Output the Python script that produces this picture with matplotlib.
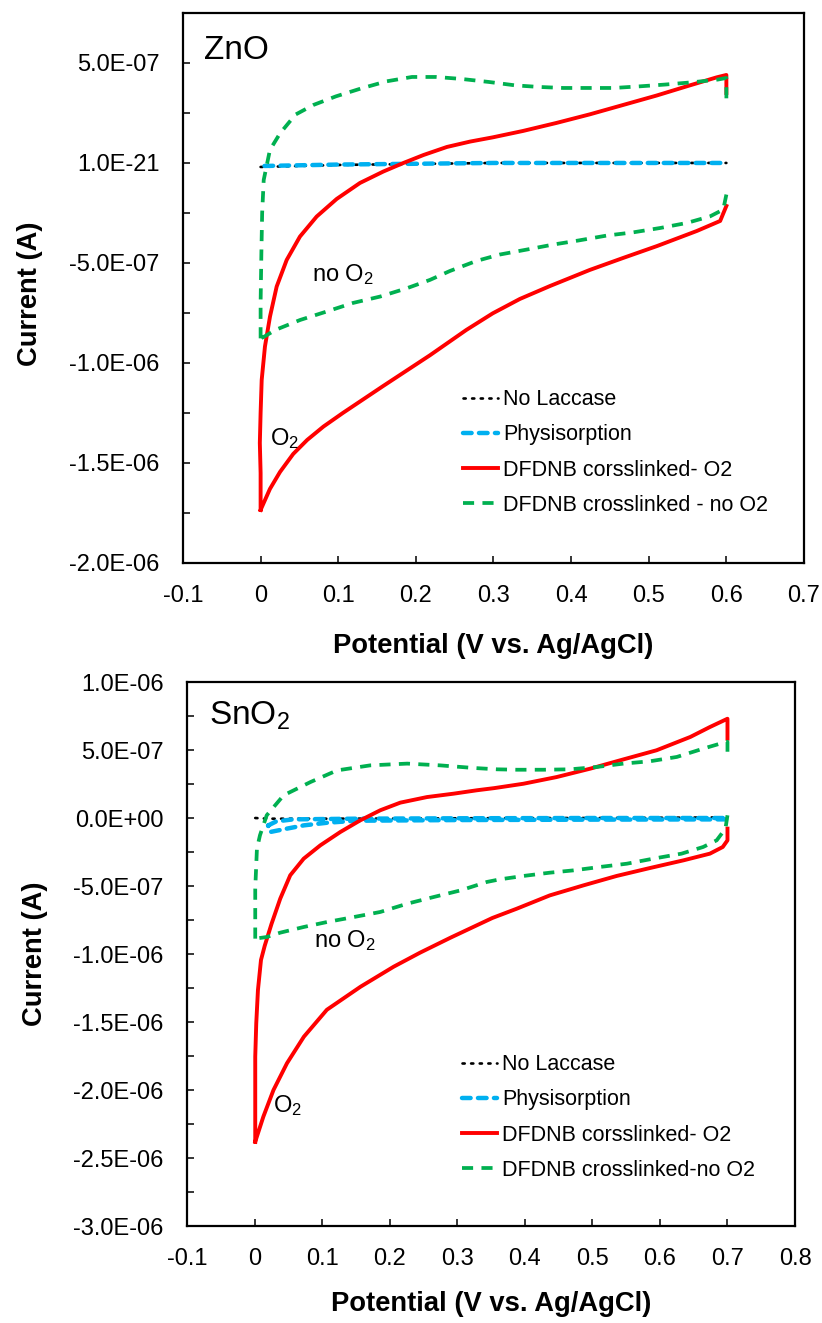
import numpy as np
import matplotlib.pyplot as plt
from matplotlib.ticker import MultipleLocator

plt.rcParams['font.family'] = 'Liberation Sans'
plt.rcParams['mathtext.fontset'] = 'custom'
plt.rcParams['mathtext.rm'] = 'Liberation Sans'
plt.rcParams['mathtext.it'] = 'Liberation Sans:italic'
plt.rcParams['mathtext.bf'] = 'Liberation Sans:bold'
plt.rcParams['lines.scale_dashes'] = False

series_names = ["No Laccase", "Physisorption", "DFDNB corsslinked- O2"]
zno_green_name = "DFDNB crosslinked - no O2"
sno2_green_name = "DFDNB crosslinked-no O2"

# ---------------------------------------------------------------------------
# ZnO electrode, potential in V, current in uA
# ---------------------------------------------------------------------------
zno_black_v = [0.0, 0.1, 0.2, 0.3, 0.4, 0.5, 0.6]
zno_black_i = [-0.02, -0.01, -0.005, 0.0, 0.0, 0.0, 0.0]

zno_blue_v = [0.005, 0.1, 0.2, 0.3, 0.4, 0.5, 0.6]
zno_blue_i = [-0.015, -0.008, -0.004, 0.0, 0.0, 0.0, 0.0]

zno_red_fwd_v = [0.000, 0.000, -0.001, 0.000, 0.0014, 0.0056, 0.0121, 0.0207, 0.0336, 0.0507,
                 0.0722, 0.098, 0.128, 0.158, 0.184, 0.210, 0.240, 0.270, 0.299, 0.338, 0.381,
                 0.424, 0.467, 0.510, 0.553, 0.5875, 0.600, 0.600]
zno_red_fwd_i = [-1.735, -1.55, -1.40, -1.25, -1.085, -0.918, -0.768, -0.618, -0.485, -0.368,
                 -0.268, -0.18, -0.10, -0.043, 0.0, 0.04, 0.08, 0.107, 0.128, 0.160, 0.200,
                 0.243, 0.290, 0.337, 0.388, 0.428, 0.44, 0.35]
zno_red_rev_v = [0.600, 0.592, 0.562, 0.511, 0.467, 0.424, 0.373, 0.334, 0.299, 0.265, 0.218,
                 0.158, 0.106, 0.081, 0.060, 0.042, 0.025, 0.012, 0.000]
zno_red_rev_i = [-0.215, -0.29, -0.34, -0.415, -0.475, -0.535, -0.615, -0.680, -0.752, -0.835, -0.962,
                 -1.115, -1.25, -1.318, -1.385, -1.455, -1.545, -1.63, -1.735]

zno_green_fwd_v = [0.000, 0.000, 0.001, 0.002, 0.004, 0.012, 0.025, 0.045, 0.068, 0.097, 0.129,
                   0.162, 0.195, 0.226, 0.259, 0.294, 0.328, 0.359, 0.390, 0.423, 0.455, 0.488,
                   0.521, 0.555, 0.589, 0.600, 0.600]
zno_green_fwd_i = [-0.877, -0.70, -0.45, -0.25, -0.085, 0.065, 0.148, 0.242, 0.29, 0.333, 0.372,
                   0.408, 0.43, 0.43, 0.42, 0.405, 0.388, 0.38, 0.375, 0.375, 0.375, 0.383,
                   0.392, 0.403, 0.417, 0.425, 0.30]
zno_green_rev_v = [0.600, 0.596, 0.579, 0.549, 0.515, 0.480, 0.446, 0.409, 0.377, 0.343, 0.308,
                   0.278, 0.244, 0.218, 0.188, 0.154, 0.119, 0.085, 0.051, 0.019, 0.004, 0.000]
zno_green_rev_i = [-0.158, -0.233, -0.267, -0.30, -0.325, -0.347, -0.363, -0.388, -0.408, -0.433, -0.458,
                   -0.49, -0.54, -0.585, -0.627, -0.668, -0.70, -0.743, -0.785, -0.835, -0.87, -0.877]

zno_yticks = [-2.0e-6, -1.5e-6, -1.0e-6, -5.0e-7, 0.0, 5.0e-7]
zno_yticklabels = ["-2.0E-06", "-1.5E-06", "-1.0E-06", "-5.0E-07", "1.0E-21", "5.0E-07"]
zno_xticks = [-0.1, 0.0, 0.1, 0.2, 0.3, 0.4, 0.5, 0.6, 0.7]
zno_xticklabels = ["-0.1", "0", "0.1", "0.2", "0.3", "0.4", "0.5", "0.6", "0.7"]

# ---------------------------------------------------------------------------
# SnO2 electrode
# ---------------------------------------------------------------------------
sno2_black_v = [0.001, 0.02, 0.1, 0.2, 0.3, 0.4, 0.5, 0.6, 0.7]
sno2_black_i = [0.0, -0.005, -0.005, -0.004, -0.002, 0.0, 0.0, 0.002, 0.005]

sno2_blue_v = [0.020, 0.032, 0.057, 0.15, 0.3, 0.5, 0.7, 0.7, 0.5, 0.3, 0.15, 0.107, 0.073,
               0.048, 0.023, 0.020]
sno2_blue_i = [-0.055, -0.025, -0.01, -0.005, -0.002, 0.0, 0.0, -0.01, -0.012, -0.015, -0.02,
               -0.035, -0.054, -0.078, -0.103, -0.055]

sno2_red_fwd_v = [0.001, 0.001, 0.001, 0.0025, 0.005, 0.0095, 0.015, 0.025, 0.038, 0.0528, 0.0727,
                  0.0973, 0.1269, 0.1565, 0.1861, 0.2157, 0.2552, 0.2947, 0.3292, 0.355, 0.398,
                  0.447, 0.497, 0.546, 0.595, 0.645, 0.674, 0.700, 0.700]
sno2_red_fwd_i = [-2.38, -2.12, -1.755, -1.51, -1.265, -1.044, -0.94, -0.78, -0.593, -0.421, -0.299,
                  -0.201, -0.103, -0.017, 0.057, 0.113, 0.154, 0.179, 0.204, 0.22, 0.252,
                  0.301, 0.363, 0.431, 0.498, 0.596, 0.669, 0.73, 0.583]
sno2_red_rev_v = [0.700, 0.700, 0.693, 0.674, 0.635, 0.585, 0.536, 0.487, 0.437, 0.388, 0.352,
                  0.290, 0.245, 0.206, 0.157, 0.107, 0.073, 0.048, 0.028, 0.013, 0.001]
sno2_red_rev_i = [-0.078, -0.164, -0.213, -0.262, -0.311, -0.368, -0.426, -0.495, -0.569, -0.667, -0.735,
                  -0.88, -0.99, -1.093, -1.24, -1.41, -1.608, -1.803, -2.0, -2.196, -2.38]

sno2_green_fwd_v = [0.001, 0.001, 0.0035, 0.008, 0.018, 0.043, 0.083, 0.122, 0.171, 0.226, 0.275,
                    0.324, 0.359, 0.388, 0.427, 0.467, 0.506, 0.546, 0.585, 0.625, 0.664, 0.694,
                    0.700, 0.700]
sno2_green_fwd_i = [-0.887, -0.52, -0.226, -0.127, 0.02, 0.167, 0.265, 0.35, 0.387, 0.40, 0.387,
                    0.368, 0.358, 0.355, 0.355, 0.358, 0.375, 0.40, 0.417, 0.449, 0.51, 0.554,
                    0.56, 0.473]
sno2_green_rev_v = [0.700, 0.697, 0.684, 0.664, 0.632, 0.590, 0.551, 0.511, 0.472, 0.437, 0.398,
                    0.363, 0.344, 0.305, 0.265, 0.226, 0.186, 0.147, 0.107, 0.073, 0.038, 0.018, 0.001]
sno2_green_rev_i = [0.02, -0.078, -0.164, -0.213, -0.262, -0.299, -0.336, -0.36, -0.385, -0.402, -0.426,
                    -0.451, -0.47, -0.532, -0.581, -0.63, -0.691, -0.728, -0.765, -0.801, -0.843,
                    -0.875, -0.887]

sno2_yticks = [-3.0e-6, -2.5e-6, -2.0e-6, -1.5e-6, -1.0e-6, -5.0e-7, 0.0, 5.0e-7, 1.0e-6]
sno2_yticklabels = ["-3.0E-06", "-2.5E-06", "-2.0E-06", "-1.5E-06", "-1.0E-06", "-5.0E-07",
                    "0.0E+00", "5.0E-07", "1.0E-06"]
sno2_xticks = [-0.1, 0.0, 0.1, 0.2, 0.3, 0.4, 0.5, 0.6, 0.7, 0.8]
sno2_xticklabels = ["-0.1", "0", "0.1", "0.2", "0.3", "0.4", "0.5", "0.6", "0.7", "0.8"]


def loop(fwd_v, fwd_i, rev_v, rev_i):
	# forward and reverse sweeps, with the gap at the vertex left open
	v = np.concatenate([fwd_v, [np.nan], rev_v])
	i = np.concatenate([fwd_i, [np.nan], rev_i]) * 1e-6
	return v, i


def draw_panel(ax, black, blue, red, green, green_name):
	ax.plot(black[0], np.array(black[1]) * 1e-6, color="black", lw=1.9,
			linestyle=(0, (1.6, 4.6)), dash_capstyle="round", label=series_names[0])
	ax.plot(blue[0], np.array(blue[1]) * 1e-6, color="#00B0F0", lw=3.2,
			linestyle=(0, (6.2, 5.3)), dash_capstyle="round", label=series_names[1])
	ax.plot(red[0], red[1], color="#FF0000", lw=2.8, label=series_names[2])
	ax.plot(green[0], green[1], color="#00B050", lw=2.7,
			linestyle=(0, (8.0, 6.0)), label=green_name)


def style_axes(ax, xticks, xticklabels, yticks, yticklabels):
	ax.set_xlim(xticks[0], xticks[-1])
	ax.set_xticks(xticks, labels=xticklabels)
	ax.set_yticks(yticks, labels=yticklabels)
	ax.yaxis.set_minor_locator(MultipleLocator(2.5e-7))
	ax.tick_params(axis="both", which="both", direction="in", length=5, width=1.1,
				   labelsize=17)
	ax.tick_params(axis="y", which="both", pad=17)
	ax.tick_params(axis="x", which="both", pad=16)
	for sp in ax.spines.values():
		sp.set_linewidth(1.6)
	ax.set_xlabel("Potential (V vs. Ag/AgCl)", fontsize=19.7, fontweight="bold")
	ax.set_ylabel("Current (A)", fontsize=19.7, fontweight="bold")


fig = plt.figure(figsize=(8.22, 13.23), dpi=100)

# top panel: ZnO
ax1 = fig.add_axes([0.2226, 0.5745, 0.7555, 0.4157])
draw_panel(ax1, (zno_black_v, zno_black_i), (zno_blue_v, zno_blue_i),
		   loop(zno_red_fwd_v, zno_red_fwd_i, zno_red_rev_v, zno_red_rev_i),
		   loop(zno_green_fwd_v, zno_green_fwd_i, zno_green_rev_v, zno_green_rev_i),
		   zno_green_name)
style_axes(ax1, zno_xticks, zno_xticklabels, zno_yticks, zno_yticklabels)
ax1.set_ylim(-2.0e-6, 7.5e-7)
ax1.xaxis.set_label_coords(0.5, -0.128)
ax1.yaxis.set_label_coords(-0.226, 0.49)
ax1.text(-0.073, 0.52e-6, "ZnO", fontsize=24)
ax1.text(0.066, -0.59e-6, "no O$_2$", fontsize=17)
ax1.text(0.012, -1.41e-6, "O$_2$", fontsize=17)
ax1.legend(loc="upper left", bbox_to_anchor=(0.451, 0.316), frameon=False, fontsize=15.5,
		   handlelength=1.63, handletextpad=0.23, labelspacing=0.66, borderpad=0,
		   borderaxespad=0)

# bottom panel: SnO2
ax2 = fig.add_axes([0.2275, 0.0733, 0.7397, 0.4112])
draw_panel(ax2, (sno2_black_v, sno2_black_i), (sno2_blue_v, sno2_blue_i),
		   loop(sno2_red_fwd_v, sno2_red_fwd_i, sno2_red_rev_v, sno2_red_rev_i),
		   loop(sno2_green_fwd_v, sno2_green_fwd_i, sno2_green_rev_v, sno2_green_rev_i),
		   sno2_green_name)
style_axes(ax2, sno2_xticks, sno2_xticklabels, sno2_yticks, sno2_yticklabels)
ax2.set_ylim(-3.0e-6, 1.0e-6)
ax2.xaxis.set_label_coords(0.5, -0.12)
ax2.yaxis.set_label_coords(-0.229, 0.5)
ax2.text(-0.0674, 0.69e-6, "SnO$_2$", fontsize=24)
ax2.text(0.088, -0.949e-6, "no O$_2$", fontsize=17)
ax2.text(0.027, -2.16e-6, "O$_2$", fontsize=17)
ax2.legend(loc="upper left", bbox_to_anchor=(0.452, 0.316), frameon=False, fontsize=15.5,
		   handlelength=1.63, handletextpad=0.23, labelspacing=0.66, borderpad=0,
		   borderaxespad=0)

plt.savefig("out.png", dpi=100)
plt.close()
